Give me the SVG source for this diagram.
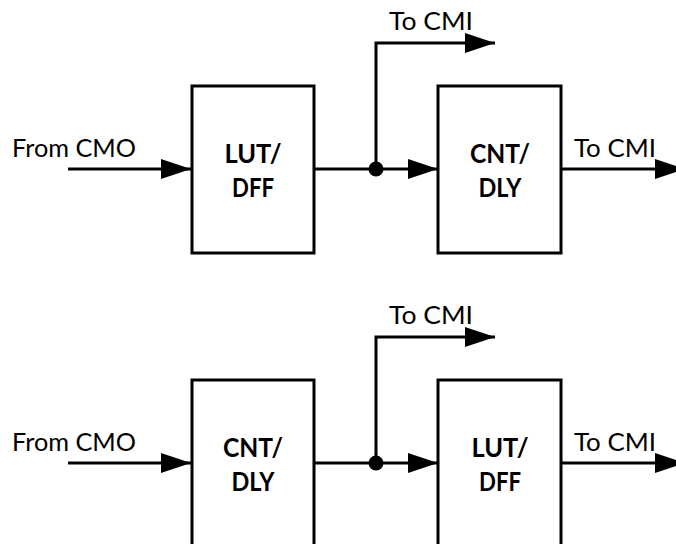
<svg xmlns="http://www.w3.org/2000/svg" width="676" height="544" viewBox="0 0 676 544">
<style>
.box{fill:#fff;stroke:#000;stroke-width:3}
.wire{fill:none;stroke:#000;stroke-width:3;marker-end:url(#arr)}
.lbl{font-family:Lato,"Liberation Sans",sans-serif;font-size:25.5px;fill:#000}
.blbl{font-family:Lato,"Liberation Sans",sans-serif;font-size:27.5px;font-weight:700;fill:#000;text-anchor:middle}
</style>
<defs>
<marker id="arr" markerUnits="userSpaceOnUse" markerWidth="30" markerHeight="20" refX="30" refY="10" orient="auto"><path d="M0,0 L30,10 L0,20 Z" fill="#000"/></marker>
</defs>
<g id="top">
<g id="connectors-top">
<path class="wire" d="M68,169 H191"/>
<path class="wire" d="M315,169 H438"/>
<path class="wire" d="M376,169 V43 H495"/>
<path class="wire" d="M562,169 H685"/>
<circle cx="376" cy="169" r="7.5" fill="#000"/>
</g>
<g id="node-lutdff-top"><rect class="box" x="192" y="86" width="122" height="167"/><text class="blbl" x="253" y="163" textLength="57" lengthAdjust="spacingAndGlyphs">LUT/</text><text class="blbl" x="253" y="197" textLength="42" lengthAdjust="spacingAndGlyphs">DFF</text></g>
<g id="node-cntdly-top"><rect class="box" x="438" y="86" width="123" height="167"/><text class="blbl" x="500" y="163" textLength="60" lengthAdjust="spacingAndGlyphs">CNT/</text><text class="blbl" x="500" y="197" textLength="43" lengthAdjust="spacingAndGlyphs">DLY</text></g>
<g id="labels-top">
<text class="lbl" x="12" y="157" textLength="124" lengthAdjust="spacingAndGlyphs">From CMO</text>
<text class="lbl" x="389" y="30" textLength="84" lengthAdjust="spacingAndGlyphs">To CMI</text>
<text class="lbl" x="574" y="157" textLength="82" lengthAdjust="spacingAndGlyphs">To CMI</text>
</g>
</g>
<g id="bottom" transform="translate(0,294)">
<g id="connectors-bottom">
<path class="wire" d="M68,169 H191"/>
<path class="wire" d="M315,169 H438"/>
<path class="wire" d="M376,169 V43 H495"/>
<path class="wire" d="M562,169 H685"/>
<circle cx="376" cy="169" r="7.5" fill="#000"/>
</g>
<g id="node-cntdly-bottom"><rect class="box" x="192" y="86" width="122" height="167"/><text class="blbl" x="253" y="163" textLength="60" lengthAdjust="spacingAndGlyphs">CNT/</text><text class="blbl" x="253" y="197" textLength="43" lengthAdjust="spacingAndGlyphs">DLY</text></g>
<g id="node-lutdff-bottom"><rect class="box" x="438" y="86" width="123" height="167"/><text class="blbl" x="500" y="163" textLength="57" lengthAdjust="spacingAndGlyphs">LUT/</text><text class="blbl" x="500" y="197" textLength="42" lengthAdjust="spacingAndGlyphs">DFF</text></g>
<g id="labels-bottom">
<text class="lbl" x="12" y="157" textLength="124" lengthAdjust="spacingAndGlyphs">From CMO</text>
<text class="lbl" x="389" y="30" textLength="84" lengthAdjust="spacingAndGlyphs">To CMI</text>
<text class="lbl" x="574" y="157" textLength="82" lengthAdjust="spacingAndGlyphs">To CMI</text>
</g>
</g>
</svg>
